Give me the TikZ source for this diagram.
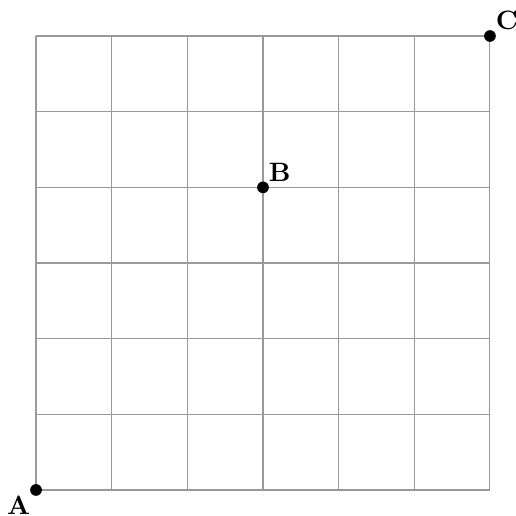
\documentclass[tikz,border=0pt]{standalone}
\usetikzlibrary{positioning}

\begin{document}
\begin{tikzpicture}[
        gridline/.style={gray!80, line width=0.4pt},
        pt/.style={circle, fill=black, inner sep=0pt, minimum size=4.4pt},
        ptlabel/.style={font=\bfseries, inner sep=2pt}
    ]
        \useasboundingbox (-0.476,-0.344) rectangle (6.344,6.476);

        \draw[gridline] (0,0) grid (6,6);

        \node[pt] (A) at (0,0) {};
        \node[pt] (B) at (3,4) {};
        \node[pt] (C) at (6,6) {};

        \node[ptlabel, below left=0pt of A.center] (labA) {A};
        \node[ptlabel, above right=0pt of B.center] (labB) {B};
        \node[ptlabel, above right=0pt of C.center] (labC) {C};

    \end{tikzpicture}
\end{document}
